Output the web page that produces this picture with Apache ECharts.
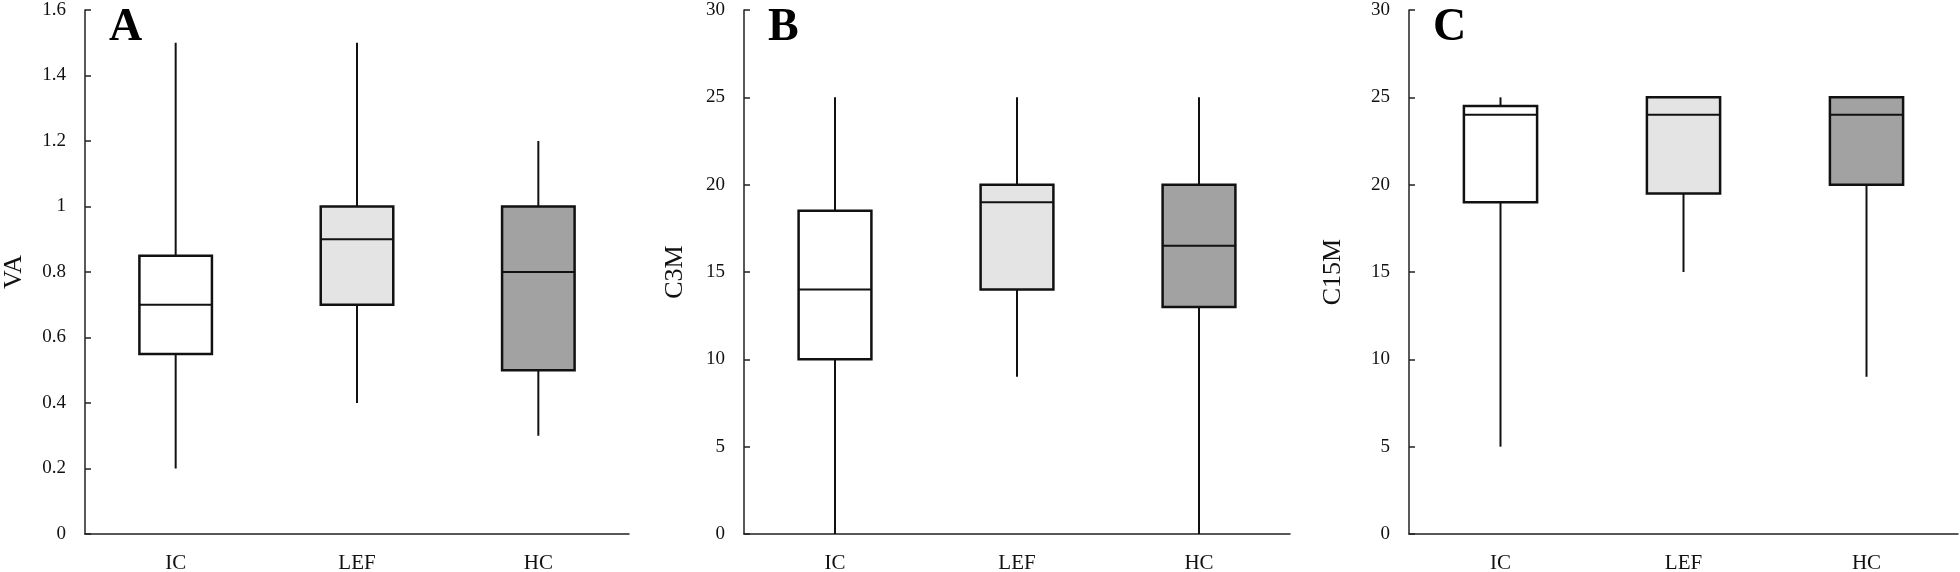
<!DOCTYPE html>
<html>
<head>
<meta charset="utf-8">
<script src="https://cdn.jsdelivr.net/npm/echarts@6/dist/echarts.min.js"></script>
<style>html,body{margin:0;padding:0;background:#fff}#c{width:1960px;height:572px}</style>
</head>
<body>
<div id="c"></div>
<script>
// Categories and group fills
var categories = ['IC', 'LEF', 'HC'];
var fills = ['#ffffff', '#e4e4e4', '#a2a2a2'];

// [min, Q1, median, Q3, max] per category
var vaBoxes   = [[0.2, 0.55, 0.7, 0.85, 1.5], [0.4, 0.7, 0.9, 1.0, 1.5], [0.3, 0.5, 0.8, 1.0, 1.2]];
var c3mBoxes  = [[0, 10, 14, 18.5, 25], [9, 14, 19, 20, 25], [0, 13, 16.5, 20, 25]];
var c15mBoxes = [[5, 19, 24, 24.5, 25], [15, 19.5, 24, 25, 25], [9, 20, 24, 25, 25]];

// Axis settings
var vaAxis   = {name: 'VA',   min: 0, max: 1.6, interval: 0.2};
var c3mAxis  = {name: 'C3M',  min: 0, max: 30,  interval: 5};
var c15mAxis = {name: 'C15M', min: 0, max: 30,  interval: 5};
var panelLetters = ['A', 'B', 'C'];

var FONT = '"Liberation Serif", "Times New Roman", serif';
var chart = echarts.init(document.getElementById('c'));

var grids = [
  {left: 85, width: 544, top: 10, height: 524, outerBoundsMode: 'none', containLabel: false},
  {left: 744, width: 546, top: 10, height: 524, outerBoundsMode: 'none', containLabel: false},
  {left: 1409, width: 549, top: 10, height: 524, outerBoundsMode: 'none', containLabel: false}
];
var axes = [vaAxis, c3mAxis, c15mAxis];
var boxesAll = [vaBoxes, c3mBoxes, c15mBoxes];
var nameGaps = [58, 56, 63];

function fmt(v) { return String(Math.round(v * 10) / 10); }

var xAxis = [], yAxis = [], series = [], titles = [];
for (var i = 0; i < 3; i++) {
  xAxis.push({
    type: 'category', gridIndex: i, data: categories, boundaryGap: true,
    axisLine: {lineStyle: {color: '#222', width: 1.5}},
    axisTick: {inside: true, length: 6, lineStyle: {color: '#222', width: 1.5}},
    axisLabel: {color: '#111', fontFamily: FONT, fontSize: 21, margin: 19}
  });
  yAxis.push({
    type: 'value', gridIndex: i, min: axes[i].min, max: axes[i].max, interval: axes[i].interval,
    name: axes[i].name, nameLocation: 'middle', nameRotate: 90, nameGap: nameGaps[i],
    nameTextStyle: {color: '#111', fontFamily: FONT, fontSize: 26},
    splitLine: {show: false},
    axisLine: {show: true, lineStyle: {color: '#222', width: 1.5}},
    axisTick: {show: true, inside: true, length: 6, lineStyle: {color: '#222', width: 1.5}},
    axisLabel: {color: '#111', fontFamily: FONT, fontSize: 19, margin: 19, formatter: fmt}
  });
  var data = boxesAll[i].map(function (b, k) { return [k].concat(b); });
  series.push({
    type: 'custom', xAxisIndex: i, yAxisIndex: i, data: data,
    encode: {x: 0, y: [1, 2, 3, 4, 5]},
    renderItem: function (params, api) {
      var k = api.value(0);
      var pMin = api.coord([k, api.value(1)]);
      var pQ1 = api.coord([k, api.value(2)]);
      var pMed = api.coord([k, api.value(3)]);
      var pQ3 = api.coord([k, api.value(4)]);
      var pMax = api.coord([k, api.value(5)]);
      var bw = api.size([1, 0])[0] * 0.4;
      var x = pQ1[0];
      var stroke = {stroke: '#111', lineWidth: 2};
      return {
        type: 'group',
        children: [
          {type: 'line', shape: {x1: x, y1: pMin[1], x2: x, y2: pQ1[1]}, style: stroke},
          {type: 'line', shape: {x1: x, y1: pQ3[1], x2: x, y2: pMax[1]}, style: stroke},
          {type: 'rect', shape: {x: x - bw / 2, y: pQ3[1], width: bw, height: pQ1[1] - pQ3[1]},
            style: {fill: fills[k], stroke: '#111', lineWidth: 2.5}},
          {type: 'line', shape: {x1: x - bw / 2, y1: pMed[1], x2: x + bw / 2, y2: pMed[1]}, style: stroke}
        ]
      };
    }
  });
  titles.push({
    text: panelLetters[i], left: grids[i].left + 19, top: 0,
    textStyle: {fontFamily: FONT, fontWeight: 'bold', fontSize: 46, color: '#000'}
  });
}

chart.setOption({
  animation: false,
  backgroundColor: '#fff',
  title: titles,
  grid: grids,
  xAxis: xAxis,
  yAxis: yAxis,
  series: series
});
</script>
</body>
</html>
